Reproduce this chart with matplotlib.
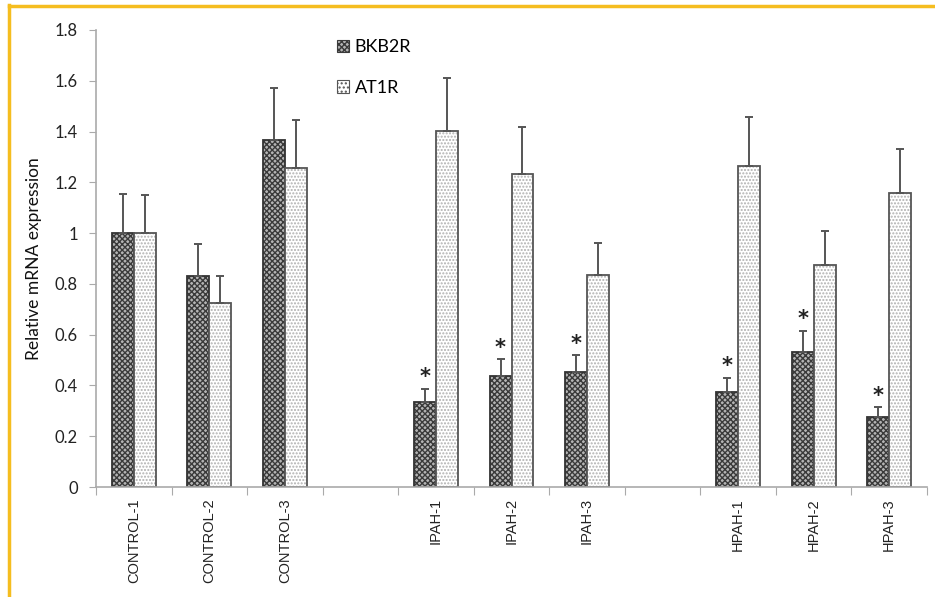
import numpy as np
import matplotlib
matplotlib.use('Agg')
import matplotlib.pyplot as plt
from matplotlib.patches import Patch
from matplotlib.lines import Line2D

# Relative mRNA expression
groups = ['CONTROL-1', 'CONTROL-2', 'CONTROL-3', '',
          'IPAH-1', 'IPAH-2', 'IPAH-3', '',
          'HPAH-1', 'HPAH-2', 'HPAH-3']
bkb2r = [1.00, 0.832, 1.365, np.nan, 0.336, 0.437, 0.452, np.nan, 0.374, 0.533, 0.276]
bkb2r_err = [0.153, 0.124, 0.205, np.nan, 0.051, 0.066, 0.067, np.nan, 0.056, 0.083, 0.038]
at1r = [1.00, 0.726, 1.256, np.nan, 1.402, 1.233, 0.835, np.nan, 1.265, 0.876, 1.159]
at1r_err = [0.152, 0.106, 0.189, np.nan, 0.209, 0.185, 0.126, np.nan, 0.192, 0.132, 0.172]
signif = [False, False, False, False, True, True, True, False, True, True, True]

yticks = [0, 0.2, 0.4, 0.6, 0.8, 1.0, 1.2, 1.4, 1.6, 1.8]
ytick_labels = ['0', '0.2', '0.4', '0.6', '0.8', '1', '1.2', '1.4', '1.6', '1.8']

fig = plt.figure(figsize=(9.35, 5.97), dpi=100)
ax = fig.add_axes([96/935, 1 - 487/597, (927 - 96)/935, (487 - 30)/597])

x = np.arange(len(groups)) + 0.5
w = 0.29
dark_hatch = '#3a3a3a'
light_hatch = '#b0b0b0'

# fill + hatch first, then outline on top (hatch colour follows edgecolor)
ax.bar(x - w/2, bkb2r, w, color='#b4b4b4', hatch='xxxxxx', edgecolor=dark_hatch, linewidth=0)
ax.bar(x - w/2, bkb2r, w, fill=False, edgecolor='#333333', linewidth=1.3)
ax.bar(x + w/2, at1r, w, color='white', hatch='.....', edgecolor=light_hatch, linewidth=0)
ax.bar(x + w/2, at1r, w, fill=False, edgecolor='#555555', linewidth=1.3)

zeros = np.zeros(len(groups))
ax.errorbar(x - w/2, bkb2r, yerr=[zeros, bkb2r_err], fmt='none', ecolor='#555555',
            elinewidth=1.4, capsize=3, capthick=1.4)
ax.errorbar(x + w/2, at1r, yerr=[zeros, at1r_err], fmt='none', ecolor='#555555',
            elinewidth=1.4, capsize=3, capthick=1.4)

for i in range(len(groups)):
    if signif[i]:
        ax.text(x[i] - w/2, bkb2r[i] + bkb2r_err[i] + 0.045, '*', ha='center',
                va='center', fontsize=15, fontweight='bold', color='#222222')

ax.set_xlim(0, len(groups))
ax.set_ylim(0, 1.8)
ax.set_yticks(yticks)
ax.set_yticklabels(ytick_labels, fontsize=12, family='Lato', color='#222222')
ax.set_xticks(np.arange(len(groups) + 1))
ax.set_xticklabels([])
ax.set_xticks(x, minor=True)
ax.set_xticklabels(groups, minor=True, rotation=90, fontsize=10.5,
                   family=['Liberation Sans Narrow', 'Liberation Sans'], color='#222222')
ax.tick_params(axis='x', which='major', length=6, color='#aaaaaa', direction='out')
ax.tick_params(axis='x', which='minor', length=0, pad=8)
ax.tick_params(axis='y', length=5, color='#aaaaaa', direction='out', pad=8)

for s in ['top', 'right']:
    ax.spines[s].set_visible(False)
for s in ['left', 'bottom']:
    ax.spines[s].set_color('#aaaaaa')
    ax.spines[s].set_linewidth(1.2)

ax.set_ylabel('Relative mRNA expression', fontsize=12.5, family='Lato', color='#111111',
              labelpad=9)

handles = [Patch(facecolor='#b4b4b4', edgecolor=dark_hatch, hatch='xxxxxx', linewidth=0.8),
           Patch(facecolor='white', edgecolor='#555555', hatch='....', linewidth=0.8)]
ax.legend(handles, ['BKB2R', 'AT1R'], loc='upper left', bbox_to_anchor=(0.27, 1.015),
          frameon=False, handlelength=0.7, handleheight=0.7, handletextpad=0.3,
          labelspacing=1.35, prop={'family': 'Lato', 'size': 13})

# yellow frame around the figure
fig.add_artist(Line2D([9/935, 9/935], [0, 1 - 5/597], color='#f5bd1f', linewidth=2.5,
                      transform=fig.transFigure))
fig.add_artist(Line2D([9/935, 1], [1 - 6/597, 1 - 6/597], color='#f5bd1f', linewidth=2.5,
                      transform=fig.transFigure))

fig.savefig('out.png', dpi=100)
